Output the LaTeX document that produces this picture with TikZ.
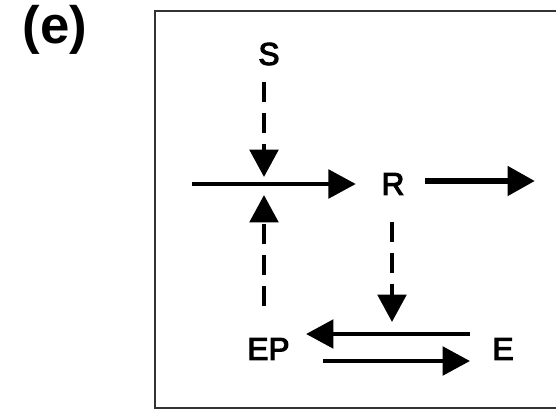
\documentclass[tikz,border=0pt]{standalone}
\usepackage{fontspec}
\setmainfont{Liberation Sans}
\newfontfamily\lblfont[FakeBold=3.5]{Liberation Sans}
\usetikzlibrary{arrows.meta,calc,positioning}

\begin{document}
\begin{tikzpicture}[x=0.03cm,y=-0.03cm,
  lbl/.style={font=\lblfont\fontsize{27}{30}\selectfont},
  flow/.style={line width=0.13cm,-{Triangle[length=0.82cm,width=0.85cm]}},
  ctrl/.style={flow,dash pattern=on 0.6cm off 0.33cm}]
  \useasboundingbox (0,0) rectangle (556,410);
  \draw[line width=0.06cm,black!80] (155,11) rectangle (600,408);
  \node[font=\bfseries\fontsize{45}{48}\selectfont] (tag) at (55,30) {(e)};
  \node[lbl] (S) at (269,54) {S};\node[lbl] (R) at (393,184) {R};
  \node[lbl] (EP) at (268.5,349) {EP};\node[lbl] (E) at (503,349) {E};
  \coordinate (in) at (192,184);
  \coordinate (mid) at (264,184);
  \coordinate (out) at (535,181);
  \coordinate (fwd) at (392,334);
  \coordinate (back) at (392,361);
  % main line through R
  \draw[flow,shorten >=0.65cm] (in)--(R);
  \draw[flow,line width=0.19cm,shorten <=0.5cm] (R.east |- out)--(out);
  % S and EP act on the main line
  \draw[ctrl,shorten <=0.38cm,shorten >=0.21cm] (mid |- S.south)--(mid);
  \draw[ctrl,shorten <=0.83cm,shorten >=0.33cm] (mid |- EP.north)--(mid);
  % R acts on EP <-> E
  \draw[ctrl,shorten <=0.68cm,shorten >=0.36cm] (fwd |- R.south)--(fwd);
  \draw[flow,shorten <=0.55cm,shorten >=0.37cm] (E.west |- fwd)--(EP.east |- fwd);
  \draw[flow,shorten <=0.88cm,shorten >=0.55cm] (EP.east |- back)--(E.west |- back);
\end{tikzpicture}
\end{document}
